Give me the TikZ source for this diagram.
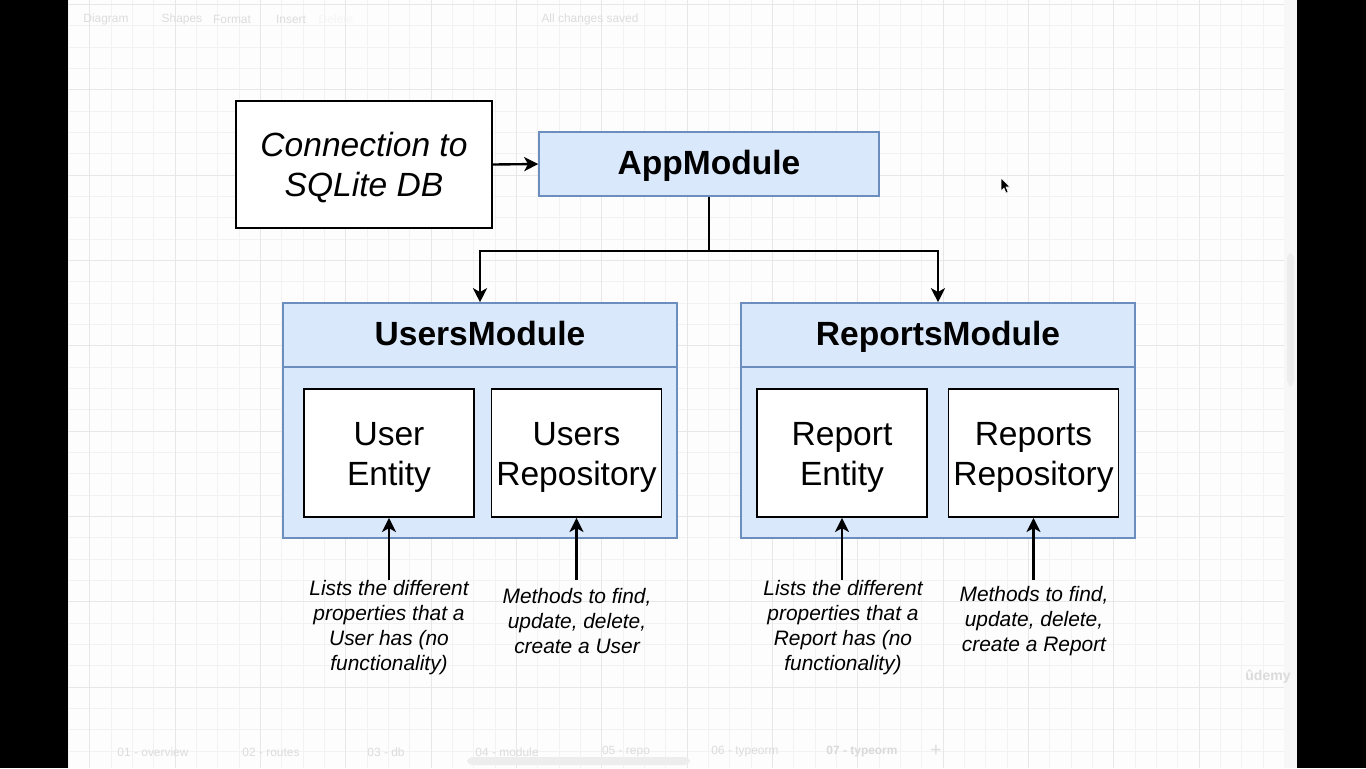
\documentclass[tikz,border=0pt]{standalone}
\usepackage{fontspec}
\setmainfont{Liberation Sans}
\usetikzlibrary{arrows.meta}

\definecolor{modfill}{HTML}{DAE8FC}
\definecolor{modline}{HTML}{6C8EBF}
\definecolor{canvas}{HTML}{FDFDFD}
\definecolor{gridminor}{HTML}{F2F2F2}
\definecolor{gridmajor}{HTML}{E7E7E7}
\definecolor{uitext}{HTML}{DCDCDC}

\tikzset{
  bigtext/.style={font=\fontsize{19.1}{22.7}\selectfont},
  whitebox/.style={draw=black, line width=1.1pt, fill=white, inner sep=0pt, align=center, bigtext},
  modbox/.style={draw=modline, line width=0.9pt, fill=modfill, inner sep=0pt, align=center, text height=16.1pt, text depth=4pt, font=\fontsize{19.1}{22.7}\selectfont\bfseries},
  note/.style={inner sep=0pt, align=center, font=\fontsize{11.9}{14.2}\selectfont\itshape},
  arrow/.style={line width=1.35pt, -{Stealth[length=8pt,width=8pt,inset=2.2pt]}},
  ui/.style={inner sep=0pt, text=uitext, font=\fontsize{6.8}{8}\selectfont},
}
\newcommand{\toprule}[1]{\rule{0pt}{#1}}

\begin{document}
\begin{tikzpicture}[x=0.02cm, y=-0.02cm]

\useasboundingbox (0,0) rectangle (1366,768);
\fill[black] (0,0) rectangle (1366,768);
\fill[canvas] (68,0) rectangle (1297,768);

% grid
\begin{scope}
\clip (68,0) rectangle (1284,768);
\foreach \k in {-5,...,52} \draw[gridminor, line width=0.5pt] ({175+21.333*\k},0) -- ++(0,768);
\foreach \k in {-8,...,28} \draw[gridminor, line width=0.5pt] (68,{175+21.333*\k}) -- ++(1216,0);
\foreach \k in {-1,...,13} \draw[gridmajor, line width=0.5pt] ({175+85.333*\k},0) -- ++(0,768);
\foreach \k in {-2,...,7} \draw[gridmajor, line width=0.5pt] (68,{175+85.333*\k}) -- ++(1216,0);
\end{scope}

% editor chrome
\fill[gray!6] (1284,0) rectangle (1297,768);
\fill[gray!14, rounded corners=3pt] (1287,253) rectangle (1294,386);
\fill[gray!14, rounded corners=3pt] (467,757) rectangle (690,765);
\node[ui] (tb-diagram) at (106,19) {Diagram};
\node[ui] (tb-shapes) at (182,19) {Shapes};
\node[ui] (tb-format) at (232,19) {Format};
\node[ui] (tb-insert) at (291,19) {Insert};
\node[ui, text=gray!8] (tb-delete) at (336,19) {Delete};
\node[ui] (tb-saved) at (590,19) {All changes saved};
\node[ui] (tab-1) at (153,752) {01 - overview};
\node[ui] (tab-2) at (271,752) {02 - routes};
\node[ui] (tab-3) at (386,752) {03 - db};
\node[ui] (tab-4) at (507,752) {04 - module};
\node[ui] (tab-5) at (626,752) {05 - repo};
\node[ui] (tab-6) at (745,752) {06 - typeorm};
\node[ui, text=gray!30, font=\fontsize{6.8}{8}\selectfont\bfseries] (tab-7) at (862,752) {07 - typeorm};
\node[ui, font=\fontsize{11}{12}\selectfont] (tab-add) at (936,751) {+};
\node[ui, text=gray!28, font=\fontsize{8}{9}\selectfont\bfseries] (logo) at (1268,677) {ûdemy};
\filldraw[fill=black, draw=white, line width=0.3pt] (1001,178) -- (1001,191) -- (1004,188) -- (1006,193) -- (1008,192) -- (1006,187) -- (1010,187) -- cycle;

% top
\node[whitebox, minimum width=5.12cm, minimum height=2.54cm, font=\fontsize{19.1}{22.7}\selectfont\itshape] (conn) at (364,164.5) {\toprule{16.9pt}Connection to\\SQLite DB};
\node[modbox, minimum width=6.8cm, minimum height=1.28cm] (app) at (709,164) {AppModule};

% modules
\node[modbox, minimum width=7.88cm, minimum height=4.7cm] (users) at (480,420.5) {};
\node[modbox, minimum width=7.88cm, minimum height=1.28cm] (usershead) at (480,335) {UsersModule};
\node[whitebox, minimum width=3.4cm, minimum height=2.56cm] (userent) at (389,453) {\toprule{18.2pt}User\\Entity};
\node[whitebox, minimum width=3.4cm, minimum height=2.56cm] (userrepo) at (576.5,453) {\toprule{18.2pt}Users\\Repository};

\node[modbox, minimum width=7.88cm, minimum height=4.7cm] (reports) at (938,420.5) {};
\node[modbox, minimum width=7.88cm, minimum height=1.28cm] (reportshead) at (938,335) {ReportsModule};
\node[whitebox, minimum width=3.4cm, minimum height=2.56cm] (reportent) at (842,453) {\toprule{18.2pt}Report\\Entity};
\node[whitebox, minimum width=3.4cm, minimum height=2.56cm] (reportrepo) at (1033.5,453) {\toprule{18.2pt}Reports\\Repository};

\draw[arrow] (conn.east) -- (app.west);
\draw[arrow] (app.south) -- ++(0,54) -| (usershead.north);
\draw[arrow] (app.south) -- ++(0,54) -| (reportshead.north);

% notes
\coordinate (userent-tail) at (389,580);
\coordinate (userrepo-tail) at (576.5,580);
\coordinate (reportent-tail) at (842,580);
\coordinate (reportrepo-tail) at (1033.5,580);
\draw[arrow] (userent-tail) -- (userent.south);
\draw[arrow] (userrepo-tail) -- (userrepo.south);
\draw[arrow] (reportent-tail) -- (reportent.south);
\draw[arrow] (reportrepo-tail) -- (reportrepo.south);

\node[note] (userent-note) at (389,628) {Lists the different\\properties that a\\User has (no\\functionality)};
\node[note] (userrepo-note) at (577,621) {Methods to find,\\update, delete,\\create a User};
\node[note] (reportent-note) at (843,628) {Lists the different\\properties that a\\Report has (no\\functionality)};
\node[note] (reportrepo-note) at (1034,621) {Methods to find,\\update, delete,\\create a Report};

\end{tikzpicture}
\end{document}
